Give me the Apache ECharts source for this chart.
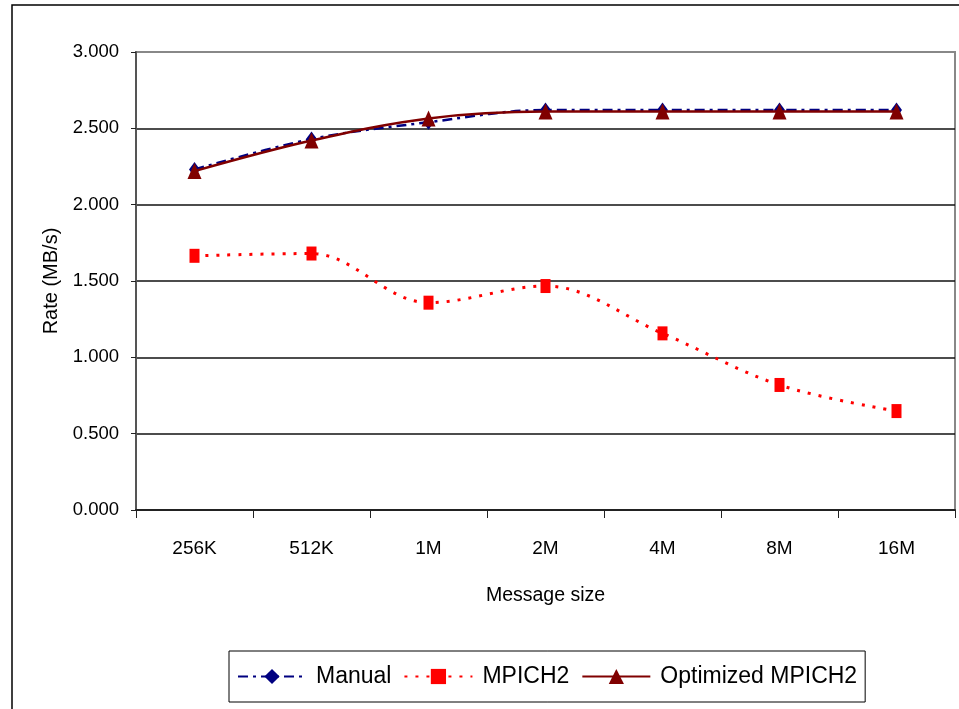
<!DOCTYPE html>
<html>
<head>
<meta charset="utf-8">
<title>Rate vs message size</title>
<script src="https://cdn.jsdelivr.net/npm/echarts@6/dist/echarts.min.js"></script>
<style>
  html, body { margin: 0; padding: 0; background: #fff; }
  #chart { width: 959px; height: 709px; }
</style>
</head>
<body>
<div id="chart"></div>
<script>
// Message sizes along the x axis
const messageSizes = ['256K', '512K', '1M', '2M', '4M', '8M', '16M'];

// Transfer rates in MB/s
const manualRates    = [2.23, 2.43, 2.54, 2.62, 2.62, 2.62, 2.62];
const mpich2Rates    = [1.665, 1.68, 1.358, 1.467, 1.157, 0.819, 0.648];
const optimizedRates = [2.22, 2.42, 2.565, 2.61, 2.61, 2.61, 2.61];

const FONT = "'Liberation Sans', Arial, sans-serif";

const chart = echarts.init(document.getElementById('chart'), null, { renderer: 'canvas' });

chart.setOption({
  animation: false,
  backgroundColor: '#ffffff',
  textStyle: { fontFamily: FONT, color: '#000' },
  grid: {
    left: 136, right: 4, top: 52, bottom: 199,
    show: true,
    borderColor: '#888888',
    borderWidth: 2,
    backgroundColor: 'transparent'
  },
  graphic: [
    {
      type: 'polyline',
      shape: { points: [[12, 709], [12, 5], [959, 5]] },
      style: { stroke: '#000', lineWidth: 1.5, fill: null },
      silent: true
    }
  ],
  legend: {
    left: 229,
    top: 651,
    orient: 'horizontal',
    padding: [14, 8, 14, 8],
    borderColor: '#000',
    borderWidth: 1,
    itemWidth: 68,
    itemHeight: 19,
    itemGap: 12,
    textStyle: { fontFamily: FONT, fontSize: 23, color: '#000', padding: [0, 0, 0, 5] },
    data: ['Manual', 'MPICH2', 'Optimized MPICH2']
  },
  xAxis: {
    type: 'category',
    data: messageSizes,
    boundaryGap: true,
    name: 'Message size',
    nameLocation: 'middle',
    nameGap: 76,
    nameTextStyle: { fontFamily: FONT, fontSize: 19.5, color: '#000' },
    axisLine: { show: true, lineStyle: { color: '#222', width: 2 } },
    axisTick: { show: true, length: 8, alignWithLabel: false, lineStyle: { color: '#222', width: 1 } },
    axisLabel: { fontFamily: FONT, fontSize: 19, color: '#000', margin: 29 },
    splitLine: { show: false }
  },
  yAxis: {
    type: 'value',
    min: 0,
    max: 3,
    interval: 0.5,
    name: 'Rate (MB/s)',
    nameLocation: 'middle',
    nameGap: 66,
    nameRotate: 90,
    nameTextStyle: { fontFamily: FONT, fontSize: 20, color: '#000' },
    axisLine: { show: true, lineStyle: { color: '#555', width: 2 } },
    axisTick: { show: true, inside: false, length: 5, lineStyle: { color: '#222', width: 1 } },
    axisLabel: {
      fontFamily: FONT, fontSize: 18.5, color: '#000', margin: 17,
      formatter: v => v.toFixed(3)
    },
    splitLine: {
      show: true,
      lineStyle: {
        color: ['#111', '#111', '#111', '#111', '#111', '#111', '#888'],
        width: 1.5
      }
    }
  },
  series: [
    {
      name: 'Manual',
      type: 'line',
      data: manualRates,
      smooth: 0.35,
      symbol: 'diamond',
      symbolSize: [11, 15],
      lineStyle: { color: '#000080', width: 2.5, type: [10, 5, 3, 5] },
      itemStyle: { color: '#000080' },
      z: 2
    },
    {
      name: 'MPICH2',
      type: 'line',
      data: mpich2Rates,
      smooth: 0.35,
      symbol: 'rect',
      symbolSize: [10, 14],
      lineStyle: { color: '#ff0000', width: 3, type: [3, 8] },
      itemStyle: { color: '#ff0000' },
      z: 3
    },
    {
      name: 'Optimized MPICH2',
      type: 'line',
      data: optimizedRates,
      smooth: 0.35,
      symbol: 'triangle',
      symbolSize: [14, 16],
      lineStyle: { color: '#800000', width: 2.5, type: 'solid' },
      itemStyle: { color: '#800000' },
      z: 4
    }
  ]
});
</script>
</body>
</html>
